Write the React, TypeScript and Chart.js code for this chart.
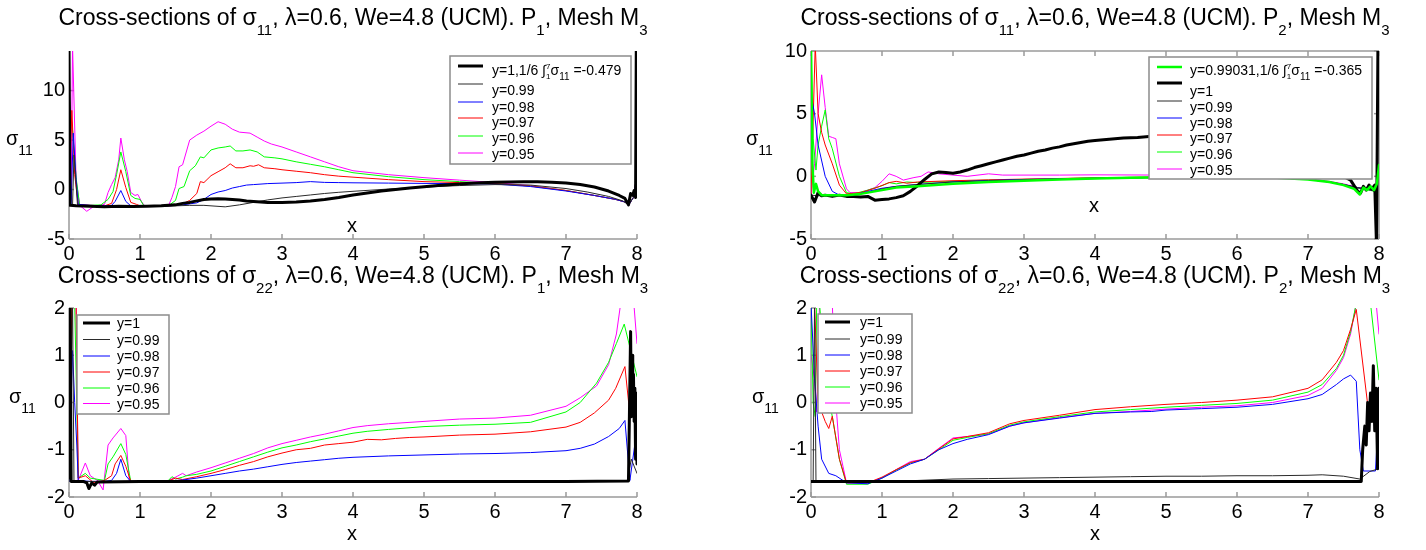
import React, { useEffect, useRef } from 'react';
import { Chart, registerables } from 'chart.js';

Chart.register(...registerables);

type P = [number, number];

// ---------------- tick labels ----------------
const X_TICKS = [0, 1, 2, 3, 4, 5, 6, 7, 8];
const Y_TICKS_TOP = [-5, 0, 5, 10];
const Y_TICKS_BOTTOM = [-2, -1, 0, 1, 2];

// ---------------- top-left: sigma11, P1 ----------------
const tl_y1: P[] = [[0,14.5],[0.015,-1.6],[0.1,-1.65],[0.3,-1.7],[0.5,-1.75],[0.7,-1.7],[0.9,-1.72],[1.1,-1.68],[1.3,-1.65],[1.5,-1.55],[1.6,-1.4],[1.7,-1.3],[1.8,-1.15],[1.9,-1.0],[2.0,-0.95],[2.1,-0.92],[2.2,-0.95],[2.3,-1.0],[2.4,-1.05],[2.5,-1.15],[2.6,-1.2],[2.7,-1.25],[2.8,-1.3],[2.9,-1.32],[3.0,-1.3],[3.2,-1.25],[3.4,-1.15],[3.6,-1.0],[3.8,-0.8],[4.0,-0.55],[4.2,-0.35],[4.4,-0.15],[4.6,0.0],[4.8,0.15],[5.0,0.28],[5.2,0.4],[5.4,0.5],[5.6,0.6],[5.8,0.68],[6.0,0.73],[6.2,0.76],[6.4,0.78],[6.6,0.78],[6.8,0.74],[7.0,0.66],[7.2,0.5],[7.4,0.25],[7.6,-0.15],[7.75,-0.6],[7.83,-0.9],[7.88,-1.55],[7.91,-0.4],[7.94,-0.6],[7.96,-0.1],[7.98,-0.8],[7.99,14.5]];
const tl_y099: P[] = [[0,-1.6],[0.05,-1.6],[0.07,3.5],[0.1,0.5],[0.12,-1.6],[0.3,-1.7],[0.5,-1.75],[0.7,-1.75],[0.9,-1.72],[1.1,-1.7],[1.3,-1.68],[1.5,-1.65],[1.7,-1.6],[1.9,-1.6],[2.0,-1.65],[2.2,-1.75],[2.4,-1.55],[2.6,-1.3],[2.8,-1.05],[3.0,-0.85],[3.2,-0.7],[3.4,-0.55],[3.6,-0.4],[3.8,-0.28],[4.0,-0.18],[4.5,0.05],[5.0,0.25],[5.5,0.4],[6.0,0.5],[6.5,0.45],[7.0,0.1],[7.3,-0.25],[7.6,-0.7],[7.8,-1.15],[7.88,-1.55],[7.95,-0.8],[8.0,0.5]];
const tl_y098: P[] = [[0,-1.6],[0.03,-1.5],[0.06,5.7],[0.1,1.0],[0.13,-1.5],[0.3,-1.6],[0.5,-1.65],[0.6,-1.6],[0.65,-1.2],[0.73,-0.1],[0.8,-1.2],[0.87,-1.65],[1.0,-1.68],[1.2,-1.7],[1.4,-1.65],[1.6,-1.55],[1.8,-1.35],[1.9,-1.0],[2.0,-0.5],[2.1,-0.25],[2.2,-0.1],[2.3,0.15],[2.4,0.3],[2.5,0.45],[2.6,0.5],[2.8,0.6],[3.0,0.65],[3.2,0.7],[3.4,0.8],[3.6,0.72],[3.8,0.7],[4.0,0.68],[4.5,0.65],[5.0,0.62],[5.5,0.6],[6.0,0.55],[6.5,0.3],[7.0,-0.15],[7.4,-0.6],[7.7,-1.0],[7.85,-1.3],[7.88,-1.6],[7.95,-0.8],[8.0,1.5]];
const tl_y097: P[] = [[0,-1.5],[0.04,8.0],[0.08,1.5],[0.13,-1.5],[0.3,-1.6],[0.5,-1.65],[0.6,-1.4],[0.67,0.0],[0.73,2.0],[0.8,0.2],[0.87,-1.3],[0.95,-1.5],[1.0,-1.65],[1.2,-1.7],[1.4,-1.65],[1.5,-1.55],[1.6,-1.45],[1.7,-1.1],[1.8,-0.4],[1.85,0.8],[1.9,0.7],[2.0,1.4],[2.1,1.8],[2.2,2.2],[2.27,2.6],[2.35,2.2],[2.45,2.2],[2.55,2.4],[2.6,2.35],[2.67,2.5],[2.75,2.2],[2.9,2.1],[3.0,2.0],[3.2,1.85],[3.4,1.7],[3.6,1.5],[3.8,1.35],[4.0,1.25],[4.5,1.0],[5.0,0.8],[5.5,0.7],[6.0,0.6],[6.5,0.35],[7.0,-0.1],[7.4,-0.6],[7.7,-1.0],[7.85,-1.3],[7.88,-1.6],[7.95,-0.8],[8.0,1.6]];
const tl_y096: P[] = [[0,9.4],[0.05,6.0],[0.1,1.2],[0.15,-1.6],[0.3,-1.6],[0.45,-1.55],[0.55,-1.0],[0.62,-0.2],[0.67,1.5],[0.73,3.8],[0.8,1.8],[0.87,-0.6],[0.93,-0.9],[1.0,-1.0],[1.05,-1.6],[1.2,-1.7],[1.4,-1.65],[1.5,-1.1],[1.55,0.1],[1.62,0.3],[1.7,1.9],[1.78,2.4],[1.85,3.3],[1.9,3.2],[2.0,4.0],[2.1,4.2],[2.2,4.3],[2.27,4.4],[2.35,3.9],[2.45,3.9],[2.55,4.0],[2.65,3.8],[2.75,3.3],[2.9,3.2],[3.0,3.1],[3.2,2.8],[3.4,2.55],[3.6,2.3],[3.8,2.0],[4.0,1.7],[4.5,1.3],[5.0,1.0],[5.5,0.8],[6.0,0.6],[6.5,0.35],[7.0,-0.1],[7.4,-0.6],[7.7,-1.0],[7.85,-1.3],[7.88,-1.6],[7.95,-0.8],[8.0,1.6]];
const tl_y095: P[] = [[0,-1.6],[0.03,-1.0],[0.05,14.5],[0.1,1.0],[0.15,-1.6],[0.25,-2.2],[0.35,-1.7],[0.5,-1.5],[0.55,-0.3],[0.6,0.5],[0.65,1.2],[0.7,3.0],[0.73,5.2],[0.78,3.0],[0.82,1.8],[0.87,-0.3],[0.93,-0.6],[0.97,-0.5],[1.02,-1.2],[1.07,-1.7],[1.2,-1.7],[1.4,-1.65],[1.45,-0.8],[1.5,0.3],[1.55,2.3],[1.6,2.5],[1.7,5.0],[1.8,5.5],[1.9,5.9],[2.0,6.4],[2.1,6.85],[2.2,6.6],[2.3,6.1],[2.4,5.8],[2.55,5.7],[2.65,5.3],[2.75,4.9],[2.85,4.6],[3.0,4.3],[3.2,3.8],[3.4,3.3],[3.6,2.8],[3.8,2.3],[4.0,1.9],[4.5,1.5],[5.0,1.2],[5.5,0.95],[6.0,0.7],[6.5,0.4],[7.0,-0.1],[7.4,-0.6],[7.7,-1.0],[7.85,-1.3],[7.88,-1.6],[7.95,-0.8],[8.0,1.6]];

// ---------------- top-right: sigma11, P2 ----------------
const tr_y99031: P[] = [[0,10.5],[0.02,1.0],[0.04,-1.3],[0.07,-0.6],[0.1,-1.2],[0.15,-1.5],[0.3,-1.5],[0.5,-1.5],[0.7,-1.4],[1.0,-1.1],[1.2,-0.9],[1.5,-0.8],[2.0,-0.6],[2.5,-0.45],[3.0,-0.35],[3.5,-0.25],[4.0,-0.18],[4.5,-0.12],[5.0,-0.08],[5.5,-0.05],[6.0,-0.05],[6.5,-0.1],[7.0,-0.25],[7.3,-0.45],[7.5,-0.7],[7.65,-1.0],[7.73,-1.45],[7.78,-0.9],[7.83,-1.1],[7.88,-0.8],[7.93,-1.1],[7.97,-0.6],[8.0,0.9]];
const tr_y1: P[] = [[0,-1.5],[0.05,-2.05],[0.1,-1.3],[0.15,-1.55],[0.2,-1.5],[0.3,-1.6],[0.4,-1.5],[0.5,-1.6],[0.6,-1.6],[0.7,-1.65],[0.8,-1.6],[0.9,-1.9],[1.0,-1.85],[1.1,-1.8],[1.2,-1.7],[1.3,-1.55],[1.4,-1.2],[1.5,-0.75],[1.6,-0.25],[1.7,0.2],[1.8,0.35],[1.9,0.3],[2.0,0.25],[2.1,0.35],[2.2,0.5],[2.3,0.7],[2.4,0.85],[2.5,1.0],[2.6,1.15],[2.7,1.3],[2.8,1.45],[2.9,1.6],[3.0,1.7],[3.1,1.85],[3.2,2.0],[3.3,2.1],[3.4,2.25],[3.5,2.35],[3.6,2.5],[3.7,2.6],[3.8,2.7],[3.9,2.8],[4.0,2.85],[4.2,2.95],[4.4,3.05],[4.6,3.1],[4.8,3.2],[5.0,3.25],[5.5,3.3],[6.0,3.2],[6.5,2.8],[7.0,1.8],[7.3,0.8],[7.5,0.0],[7.6,-0.3],[7.7,-1.2],[7.74,-1.35],[7.78,-0.8],[7.82,-1.1],[7.86,-0.7],[7.9,-1.0],[7.94,-0.7],[7.965,-5.5],[7.985,10.5]];
const tr_y099: P[] = [[0,-1.5],[0.1,-1.55],[0.3,-1.5],[0.5,-1.55],[0.7,-1.4],[0.9,-1.15],[1.0,-1.0],[1.2,-0.8],[1.5,-0.65],[2.0,-0.45],[2.5,-0.35],[3.0,-0.28],[4.0,-0.18],[5.0,-0.1],[6.0,-0.08],[6.5,-0.1],[7.0,-0.25],[7.3,-0.45],[7.5,-0.65],[7.7,-0.9],[7.9,-1.1],[7.95,-1.2],[8.0,0.7]];
const tr_y098: P[] = [[0,6.5],[0.05,5.0],[0.1,2.5],[0.2,0.0],[0.3,-1.2],[0.4,-1.5],[0.6,-1.5],[0.8,-1.2],[1.0,-0.95],[1.2,-0.8],[1.5,-0.65],[2.0,-0.45],[2.5,-0.33],[3.0,-0.25],[4.0,-0.15],[5.0,-0.08],[6.0,-0.06],[6.5,-0.1],[7.0,-0.25],[7.3,-0.45],[7.5,-0.65],[7.7,-0.9],[7.9,-1.1],[7.95,-1.2],[8.0,0.7]];
const tr_y097: P[] = [[0,-1.5],[0.06,10.5],[0.1,5.0],[0.15,3.5],[0.2,2.5],[0.3,1.0],[0.4,-0.7],[0.5,-1.4],[0.7,-1.3],[0.9,-0.95],[1.1,-0.5],[1.2,-0.4],[1.35,-0.55],[1.5,-0.45],[2.0,-0.35],[2.5,-0.28],[3.0,-0.22],[4.0,-0.12],[5.0,-0.05],[6.0,-0.04],[6.5,-0.1],[7.0,-0.25],[7.3,-0.45],[7.5,-0.65],[7.7,-0.9],[7.9,-1.1],[7.95,-1.2],[8.0,0.9]];
const tr_y096: P[] = [[0,10.5],[0.03,3.0],[0.07,0.5],[0.1,2.5],[0.15,4.0],[0.2,5.3],[0.25,3.0],[0.3,2.2],[0.4,0.0],[0.5,-1.3],[0.6,-1.4],[0.8,-1.1],[1.0,-0.75],[1.1,-0.5],[1.2,-0.6],[1.35,-0.45],[1.5,-0.5],[2.0,-0.4],[2.5,-0.3],[3.0,-0.25],[4.0,-0.12],[5.0,-0.05],[6.0,-0.05],[6.5,-0.1],[7.0,-0.25],[7.3,-0.45],[7.5,-0.65],[7.7,-0.95],[7.9,-1.15],[7.95,-1.25],[8.0,0.8]];
const tr_y095: P[] = [[0,-1.5],[0.05,1.0],[0.1,5.0],[0.15,8.1],[0.2,5.5],[0.25,3.2],[0.3,3.1],[0.35,3.0],[0.4,1.0],[0.5,-1.0],[0.55,-1.3],[0.7,-1.3],[0.9,-0.9],[1.0,-0.4],[1.1,0.2],[1.2,0.0],[1.3,-0.3],[1.45,-0.1],[1.55,0.0],[1.65,0.35],[1.8,0.2],[2.0,0.1],[2.2,0.0],[2.5,0.2],[2.7,0.1],[3.0,0.1],[3.5,0.1],[4.0,0.12],[5.0,0.1],[6.0,0.05],[6.5,-0.05],[7.0,-0.2],[7.3,-0.4],[7.5,-0.6],[7.7,-0.9],[7.9,-1.1],[7.95,-1.2],[8.0,0.6]];

// ---------------- bottom-left: sigma22, P1 ----------------
const bl_y1: P[] = [[0,-1.6],[0.015,2.1],[0.03,-1.67],[0.2,-1.67],[0.25,-1.7],[0.28,-1.82],[0.32,-1.7],[0.36,-1.75],[0.4,-1.68],[1.0,-1.67],[2.0,-1.67],[3.0,-1.67],[4.0,-1.67],[5.0,-1.67],[6.0,-1.67],[7.0,-1.67],[7.88,-1.66],[7.91,1.5],[7.92,-0.3],[7.93,1.0],[7.94,0.0],[7.95,0.6],[7.96,-0.4],[7.97,0.3],[7.98,-1.2],[7.99,0.2],[8.0,-1.3]];
const bl_y099: P[] = [[0,-1.67],[0.05,2.1],[0.07,-1.67],[1.0,-1.67],[3.0,-1.67],[5.0,-1.67],[7.0,-1.67],[7.86,-1.67],[7.92,-1.2],[8.0,-1.5]];
const bl_y098: P[] = [[0,-1.67],[0.05,1.1],[0.08,0.0],[0.11,-0.9],[0.13,-1.65],[0.3,-1.67],[0.5,-1.67],[0.6,-1.65],[0.67,-1.5],[0.73,-1.2],[0.8,-1.55],[0.87,-1.67],[1.0,-1.67],[1.4,-1.66],[1.6,-1.64],[1.8,-1.6],[2.0,-1.55],[2.2,-1.5],[2.4,-1.45],[2.6,-1.41],[2.8,-1.36],[3.0,-1.31],[3.2,-1.27],[3.4,-1.24],[3.6,-1.21],[3.8,-1.18],[4.0,-1.16],[4.5,-1.13],[5.0,-1.11],[5.5,-1.09],[6.0,-1.08],[6.5,-1.06],[7.0,-1.02],[7.2,-0.97],[7.4,-0.88],[7.6,-0.72],[7.75,-0.55],[7.83,-0.38],[7.9,-1.65],[8.0,-0.55]];
const bl_y097: P[] = [[0,-1.6],[0.04,2.1],[0.1,2.1],[0.13,-1.6],[0.23,-1.55],[0.35,-1.7],[0.5,-1.65],[0.6,-1.55],[0.65,-1.3],[0.73,-1.12],[0.8,-1.35],[0.87,-1.67],[1.0,-1.67],[1.4,-1.66],[1.5,-1.6],[1.6,-1.63],[1.8,-1.57],[2.0,-1.5],[2.2,-1.42],[2.4,-1.33],[2.6,-1.25],[2.8,-1.15],[3.0,-1.07],[3.2,-1.0],[3.4,-0.97],[3.6,-0.9],[3.8,-0.87],[4.0,-0.84],[4.2,-0.78],[4.4,-0.79],[4.6,-0.76],[4.8,-0.74],[5.0,-0.73],[5.5,-0.69],[6.0,-0.67],[6.5,-0.62],[7.0,-0.52],[7.2,-0.42],[7.4,-0.22],[7.6,0.05],[7.7,0.3],[7.83,0.76],[7.9,-0.26],[8.0,0.02]];
const bl_y096: P[] = [[0,-1.6],[0.03,2.1],[0.08,2.1],[0.13,-1.6],[0.23,-1.5],[0.3,-1.6],[0.5,-1.65],[0.55,-1.3],[0.62,-1.15],[0.73,-0.87],[0.8,-1.1],[0.87,-1.67],[1.0,-1.67],[1.4,-1.65],[1.45,-1.57],[1.5,-1.62],[1.6,-1.58],[1.65,-1.55],[1.8,-1.52],[2.0,-1.45],[2.2,-1.35],[2.4,-1.25],[2.6,-1.15],[2.8,-1.05],[3.0,-0.96],[3.2,-0.9],[3.4,-0.83],[3.6,-0.77],[3.8,-0.71],[4.0,-0.65],[4.2,-0.61],[4.5,-0.57],[5.0,-0.51],[5.5,-0.48],[6.0,-0.46],[6.5,-0.42],[7.0,-0.2],[7.2,0.0],[7.43,0.41],[7.6,0.85],[7.71,1.25],[7.82,1.66],[8.0,0.55]];
const bl_y095: P[] = [[0,-1.6],[0.02,2.1],[0.1,2.1],[0.13,-1.65],[0.23,-1.28],[0.3,-1.55],[0.4,-1.65],[0.48,-1.85],[0.55,-0.9],[0.62,-0.75],[0.73,-0.55],[0.8,-0.7],[0.85,-1.67],[1.0,-1.67],[1.4,-1.65],[1.5,-1.58],[1.6,-1.5],[1.65,-1.55],[1.8,-1.47],[2.0,-1.38],[2.2,-1.28],[2.4,-1.18],[2.6,-1.08],[2.8,-0.96],[3.0,-0.87],[3.2,-0.8],[3.4,-0.73],[3.6,-0.67],[3.8,-0.6],[4.0,-0.53],[4.2,-0.49],[4.5,-0.45],[5.0,-0.4],[5.5,-0.35],[6.0,-0.33],[6.5,-0.27],[7.0,-0.08],[7.2,0.1],[7.43,0.35],[7.6,0.8],[7.71,1.45],[7.78,2.2],[7.95,2.2],[8.0,1.25]];

// ---------------- bottom-right: sigma22, P2 ----------------
const br_y1: P[] = [[0,-1.67],[1.0,-1.67],[3.0,-1.67],[5.0,-1.67],[7.0,-1.67],[7.75,-1.67],[7.77,-1.0],[7.8,-0.5],[7.82,-0.9],[7.84,0.0],[7.86,-0.6],[7.88,0.2],[7.9,-0.4],[7.92,0.78],[7.94,-0.6],[7.96,0.3],[7.98,-1.4],[8.0,0.3]];
const br_y099: P[] = [[0,-1.67],[0.03,-1.67],[0.05,2.1],[0.07,-1.67],[1.0,-1.67],[1.5,-1.65],[2.0,-1.62],[2.5,-1.61],[3.0,-1.6],[3.5,-1.59],[4.0,-1.58],[4.5,-1.57],[5.0,-1.56],[5.5,-1.56],[6.0,-1.55],[6.5,-1.55],[7.0,-1.54],[7.2,-1.53],[7.5,-1.56],[7.73,-1.62],[7.87,-1.46],[8.0,-1.4]];
const br_y098: P[] = [[0,2.1],[0.05,0.5],[0.1,-0.5],[0.15,-1.2],[0.25,-1.5],[0.35,-1.55],[0.5,-1.7],[0.8,-1.72],[1.0,-1.6],[1.2,-1.45],[1.4,-1.3],[1.6,-1.2],[1.8,-1.0],[2.0,-0.87],[2.2,-0.78],[2.5,-0.68],[2.8,-0.5],[3.0,-0.43],[3.5,-0.33],[4.0,-0.23],[4.5,-0.2],[4.8,-0.19],[5.0,-0.16],[5.5,-0.13],[6.0,-0.1],[6.5,-0.04],[7.0,0.08],[7.2,0.17],[7.4,0.38],[7.5,0.5],[7.6,0.58],[7.68,0.45],[7.73,-1.0],[7.78,-1.45],[7.95,-1.45],[8.0,-0.1]];
const br_y097: P[] = [[0,2.1],[0.05,2.1],[0.1,0.0],[0.2,-0.4],[0.25,-0.55],[0.3,-0.29],[0.4,-1.2],[0.5,-1.7],[0.8,-1.7],[1.0,-1.58],[1.2,-1.42],[1.4,-1.27],[1.6,-1.2],[1.8,-0.98],[2.0,-0.77],[2.2,-0.72],[2.5,-0.64],[2.8,-0.45],[3.0,-0.38],[3.5,-0.27],[4.0,-0.15],[4.5,-0.09],[5.0,-0.04],[5.5,0.0],[6.0,0.05],[6.5,0.12],[7.0,0.3],[7.2,0.48],[7.4,0.85],[7.5,1.1],[7.6,1.55],[7.68,1.97],[7.85,-0.16],[7.92,-0.37],[8.0,-0.22]];
const br_y096: P[] = [[0,2.1],[0.03,0.0],[0.06,-0.3],[0.08,2.1],[0.12,2.1],[0.2,0.5],[0.3,-0.3],[0.4,-1.2],[0.5,-1.73],[0.8,-1.73],[1.0,-1.6],[1.2,-1.43],[1.4,-1.28],[1.6,-1.2],[1.8,-1.0],[2.0,-0.8],[2.2,-0.74],[2.5,-0.66],[2.8,-0.48],[3.0,-0.41],[3.5,-0.3],[4.0,-0.2],[4.5,-0.15],[5.0,-0.1],[5.5,-0.06],[6.0,-0.02],[6.5,0.05],[7.0,0.22],[7.2,0.38],[7.4,0.72],[7.5,1.0],[7.6,1.5],[7.68,2.1],[7.88,2.1],[8.0,0.48]];
const br_y095: P[] = [[0,1.0],[0.05,0.5],[0.08,-0.2],[0.12,2.1],[0.3,2.1],[0.35,0.0],[0.4,-1.0],[0.5,-1.7],[0.8,-1.7],[1.0,-1.6],[1.2,-1.42],[1.4,-1.25],[1.6,-1.2],[1.8,-0.97],[2.0,-0.75],[2.2,-0.72],[2.5,-0.67],[2.8,-0.5],[3.0,-0.43],[3.5,-0.32],[4.0,-0.23],[4.5,-0.19],[5.0,-0.14],[5.5,-0.1],[6.0,-0.07],[6.5,0.0],[7.0,0.15],[7.2,0.3],[7.4,0.68],[7.5,0.95],[7.6,1.45],[7.68,2.1],[7.96,2.1],[8.0,1.45]];

// ---------------- styles ----------------
const FONT = '"Liberation Sans", Arial, Helvetica, sans-serif';
const AXIS_COLOR = '#9a9a9a';
const C_BLACK = '#000000';
const C_THIN = '#2a2a2a';
const C_BLUE = '#0000ff';
const C_RED = '#ff0000';
const C_GREEN = '#00ff00';
const C_MAGENTA = '#ff00ff';
const TICK = 5;

type Seg = { t: string; k?: 'sub' | 'sup'; size?: number; dy?: number; stack?: boolean };

function segSize(s: Seg, base: number) {
  return s.size ?? (s.k ? Math.round(base * 0.65) : base);
}
function segDy(s: Seg, base: number) {
  if (s.dy !== undefined) return s.dy;
  if (s.k === 'sub') return base * 0.42;
  if (s.k === 'sup') return -base * 0.45;
  return 0;
}
function drawRich(ctx: CanvasRenderingContext2D, segs: Seg[], x: number, y: number, base: number, align: 'left' | 'center') {
  ctx.save();
  ctx.textBaseline = 'alphabetic';
  ctx.textAlign = 'left';
  ctx.fillStyle = '#000';
  let total = 0;
  for (const s of segs) {
    ctx.font = `${segSize(s, base)}px ${FONT}`;
    if (!s.stack) total += ctx.measureText(s.t).width;
  }
  let cx = align === 'center' ? x - total / 2 : x;
  for (const s of segs) {
    ctx.font = `${segSize(s, base)}px ${FONT}`;
    ctx.fillText(s.t, cx, y + segDy(s, base));
    if (!s.stack) cx += ctx.measureText(s.t).width;
  }
  ctx.restore();
}

function titleSegs(comp: string, p: string): Seg[] {
  return [
    { t: 'Cross-sections of σ' },
    { t: comp, k: 'sub' },
    { t: ', λ=0.6, We=4.8 (UCM). P' },
    { t: p, k: 'sub' },
    { t: ', Mesh M' },
    { t: '3', k: 'sub' },
  ];
}

function integralSegs(prefix: string, value: string): Seg[] {
  return [
    { t: prefix },
    { t: '∫', size: 14 },
    { t: '7', size: 8, dy: -6, stack: true },
    { t: '1', size: 8, dy: 4 },
    { t: 'σ' },
    { t: '11', size: 10, dy: 5 },
    { t: ' =' + value },
  ];
}

const YLAB: Seg[] = [{ t: 'σ' }, { t: '11', size: 14, dy: 10 }];

type Series = { data: P[]; color: string; width: number };
type LegendEntry = { segs: Seg[]; color: string; width: number; sy: number; ty: number };
type Panel = {
  left: number; top: number; w: number; h: number;
  area: { l: number; t: number; r: number; b: number };
  yMin: number; yMax: number; yTicks: number[];
  series: Series[];
  title: Seg[]; titleY: number;
  ylab: [number, number];
  xlab: [number, number];
  box: boolean;
  legend: { rect: [number, number, number, number]; sx: [number, number]; tx: number; entries: LegendEntry[] };
};

const L = (t: string): Seg[] => [{ t }];

const PANELS: Panel[] = [
  {
    left: 0, top: 0, w: 713, h: 263,
    area: { l: 69, t: 51, r: 637, b: 239 },
    yMin: -5, yMax: 14, yTicks: Y_TICKS_TOP,
    series: [
      { data: tl_y1, color: C_BLACK, width: 3 },
      { data: tl_y099, color: C_THIN, width: 1 },
      { data: tl_y098, color: C_BLUE, width: 1 },
      { data: tl_y097, color: C_RED, width: 1 },
      { data: tl_y096, color: C_GREEN, width: 1 },
      { data: tl_y095, color: C_MAGENTA, width: 1 },
    ],
    title: titleSegs('11', '1'), titleY: 25,
    ylab: [6, 145], xlab: [352, 232], box: false,
    legend: {
      rect: [450, 56, 631, 164], sx: [458, 483], tx: 492,
      entries: [
        { segs: integralSegs('y=1,1/6 ', '-0.479'), color: C_BLACK, width: 3, sy: 66, ty: 70 },
        { segs: L('y=0.99'), color: C_THIN, width: 1, sy: 84, ty: 90 },
        { segs: L('y=0.98'), color: C_BLUE, width: 1, sy: 102, ty: 106.5 },
        { segs: L('y=0.97'), color: C_RED, width: 1, sy: 118, ty: 122 },
        { segs: L('y=0.96'), color: C_GREEN, width: 1, sy: 136, ty: 137.5 },
        { segs: L('y=0.95'), color: C_MAGENTA, width: 1, sy: 153, ty: 153.5 },
      ],
    },
  },
  {
    left: 713, top: 0, w: 713, h: 263,
    area: { l: 811, t: 51, r: 1379, b: 239 },
    yMin: -5, yMax: 10, yTicks: Y_TICKS_TOP,
    series: [
      { data: tr_y99031, color: C_GREEN, width: 2.5 },
      { data: tr_y1, color: C_BLACK, width: 3 },
      { data: tr_y099, color: C_THIN, width: 1 },
      { data: tr_y098, color: C_BLUE, width: 1 },
      { data: tr_y097, color: C_RED, width: 1 },
      { data: tr_y096, color: C_GREEN, width: 1 },
      { data: tr_y095, color: C_MAGENTA, width: 1 },
    ],
    title: titleSegs('11', '2'), titleY: 25,
    ylab: [746, 145], xlab: [1094, 212], box: true,
    legend: {
      rect: [1149, 57, 1372, 179], sx: [1157, 1182], tx: 1190,
      entries: [
        { segs: integralSegs('y=0.99031,1/6 ', '-0.365'), color: C_GREEN, width: 2.5, sy: 67, ty: 70 },
        { segs: L('y=1'), color: C_BLACK, width: 3, sy: 83, ty: 90.5 },
        { segs: L('y=0.99'), color: C_THIN, width: 1, sy: 101, ty: 106.5 },
        { segs: L('y=0.98'), color: C_BLUE, width: 1, sy: 118, ty: 122.5 },
        { segs: L('y=0.97'), color: C_RED, width: 1, sy: 135, ty: 138 },
        { segs: L('y=0.96'), color: C_GREEN, width: 1, sy: 152, ty: 154 },
        { segs: L('y=0.95'), color: C_MAGENTA, width: 1, sy: 169, ty: 170 },
      ],
    },
  },
  {
    left: 0, top: 263, w: 713, h: 287,
    area: { l: 69, t: 308, r: 637, b: 497 },
    yMin: -2, yMax: 2, yTicks: Y_TICKS_BOTTOM,
    series: [
      { data: bl_y1, color: C_BLACK, width: 3 },
      { data: bl_y099, color: C_THIN, width: 1 },
      { data: bl_y098, color: C_BLUE, width: 1 },
      { data: bl_y097, color: C_RED, width: 1 },
      { data: bl_y096, color: C_GREEN, width: 1 },
      { data: bl_y095, color: C_MAGENTA, width: 1 },
    ],
    title: titleSegs('22', '1'), titleY: 283,
    ylab: [9, 403], xlab: [352, 540], box: false,
    legend: {
      rect: [77, 315, 169, 414], sx: [83, 110], tx: 117,
      entries: [
        { segs: L('y=1'), color: C_BLACK, width: 3, sy: 323, ty: 323 },
        { segs: L('y=0.99'), color: C_THIN, width: 1, sy: 339.5, ty: 339.5 },
        { segs: L('y=0.98'), color: C_BLUE, width: 1, sy: 356, ty: 356 },
        { segs: L('y=0.97'), color: C_RED, width: 1, sy: 372, ty: 372 },
        { segs: L('y=0.96'), color: C_GREEN, width: 1, sy: 388, ty: 388 },
        { segs: L('y=0.95'), color: C_MAGENTA, width: 1, sy: 403.5, ty: 403.5 },
      ],
    },
  },
  {
    left: 713, top: 263, w: 713, h: 287,
    area: { l: 811, t: 308, r: 1379, b: 497 },
    yMin: -2, yMax: 2, yTicks: Y_TICKS_BOTTOM,
    series: [
      { data: br_y1, color: C_BLACK, width: 3 },
      { data: br_y099, color: C_THIN, width: 1 },
      { data: br_y098, color: C_BLUE, width: 1 },
      { data: br_y097, color: C_RED, width: 1 },
      { data: br_y096, color: C_GREEN, width: 1 },
      { data: br_y095, color: C_MAGENTA, width: 1 },
    ],
    title: titleSegs('22', '2'), titleY: 283,
    ylab: [752, 403], xlab: [1095, 540], box: false,
    legend: {
      rect: [818, 314, 912, 413], sx: [825, 850], tx: 860,
      entries: [
        { segs: L('y=1'), color: C_BLACK, width: 3, sy: 322, ty: 322 },
        { segs: L('y=0.99'), color: C_THIN, width: 1, sy: 339, ty: 339 },
        { segs: L('y=0.98'), color: C_BLUE, width: 1, sy: 355, ty: 355 },
        { segs: L('y=0.97'), color: C_RED, width: 1, sy: 371, ty: 371 },
        { segs: L('y=0.96'), color: C_GREEN, width: 1, sy: 387, ty: 387 },
        { segs: L('y=0.95'), color: C_MAGENTA, width: 1, sy: 403, ty: 403 },
      ],
    },
  },
];

function decorPlugin(p: Panel) {
  const seg = (ctx: CanvasRenderingContext2D, x1: number, y1: number, x2: number, y2: number) => {
    ctx.beginPath();
    ctx.moveTo(x1, y1);
    ctx.lineTo(x2, y2);
    ctx.stroke();
  };
  return {
    id: 'decor',
    beforeDatasetsDraw(chart: any) {
      const ctx: CanvasRenderingContext2D = chart.ctx;
      const { left, right, top, bottom } = chart.chartArea;
      const xs = chart.scales.x;
      const ys = chart.scales.y;
      ctx.save();
      ctx.strokeStyle = AXIS_COLOR;
      ctx.lineWidth = 1.5;
      seg(ctx, left, bottom, right, bottom);
      seg(ctx, left, top, left, bottom);
      if (p.box) {
        seg(ctx, left, top, right, top);
        seg(ctx, right, top, right, bottom);
      }
      for (const v of X_TICKS) {
        const x = xs.getPixelForValue(v);
        seg(ctx, x, bottom, x, bottom - TICK);
        if (p.box) seg(ctx, x, top, x, top + TICK);
      }
      for (const v of p.yTicks) {
        const y = ys.getPixelForValue(v);
        seg(ctx, left, y, left + TICK, y);
        if (p.box) seg(ctx, right, y, right - TICK, y);
      }
      ctx.restore();
    },
    afterDatasetsDraw(chart: any) {
      const ctx: CanvasRenderingContext2D = chart.ctx;
      const ox = p.left;
      const oy = p.top;
      // legend
      const lg = p.legend;
      const [bl, bt, br, bb] = lg.rect;
      ctx.save();
      ctx.fillStyle = '#ffffff';
      ctx.fillRect(bl - ox, bt - oy, br - bl, bb - bt);
      ctx.strokeStyle = '#8c8c8c';
      ctx.lineWidth = 1.5;
      ctx.strokeRect(bl - ox, bt - oy, br - bl, bb - bt);
      for (const e of lg.entries) {
        ctx.strokeStyle = e.color;
        ctx.lineWidth = e.width;
        ctx.beginPath();
        ctx.moveTo(lg.sx[0] - ox, e.sy - oy);
        ctx.lineTo(lg.sx[1] - ox, e.sy - oy);
        ctx.stroke();
        drawRich(ctx, e.segs, lg.tx - ox, e.ty + 5 - oy, 14, 'left');
      }
      ctx.restore();
      // title
      const cx = (p.area.l + p.area.r) / 2;
      drawRich(ctx, p.title, cx - ox, p.titleY - oy, 23, 'center');
      // y label
      drawRich(ctx, YLAB, p.ylab[0] - ox, p.ylab[1] - oy, 20, 'left');
      // x label
      drawRich(ctx, [{ t: 'x' }], p.xlab[0] - ox, p.xlab[1] - oy, 20, 'center');
    },
  };
}

function buildConfig(p: Panel): any {
  const a = p.area;
  const tickFont = { family: FONT, size: 20 };
  return {
    type: 'line',
    data: {
      datasets: p.series.map((s) => ({
        data: s.data.map(([x, y]) => ({ x, y })),
        borderColor: s.color,
        borderWidth: s.width,
        pointRadius: 0,
        fill: false,
        tension: 0,
        borderJoinStyle: 'round',
        borderCapStyle: 'round',
      })),
    },
    options: {
      responsive: false,
      maintainAspectRatio: false,
      animation: false,
      devicePixelRatio: 1,
      events: [],
      layout: { padding: { left: 0, top: a.t - p.top, right: p.left + p.w - a.r, bottom: 0 } },
      plugins: { legend: { display: false }, tooltip: { enabled: false }, title: { display: false } },
      scales: {
        x: {
          type: 'linear', min: 0, max: 8,
          grid: { display: false, drawTicks: false },
          border: { display: false },
          ticks: { font: tickFont, color: '#000', padding: 3, maxRotation: 0, autoSkip: false },
          afterBuildTicks: (ax: any) => { ax.ticks = X_TICKS.map((v) => ({ value: v })); },
          afterFit: (ax: any) => { ax.height = p.top + p.h - a.b; },
        },
        y: {
          type: 'linear', min: p.yMin, max: p.yMax,
          grid: { display: false, drawTicks: false },
          border: { display: false },
          ticks: { font: tickFont, color: '#000', padding: 4 },
          afterBuildTicks: (ax: any) => { ax.ticks = p.yTicks.map((v) => ({ value: v })); },
          afterFit: (ax: any) => { ax.width = a.l - p.left; },
        },
      },
    },
    plugins: [decorPlugin(p)],
  };
}

function PanelChart({ p }: { p: Panel }) {
  const ref = useRef<HTMLCanvasElement>(null);
  useEffect(() => {
    const canvas = ref.current;
    if (!canvas) return;
    const chart = new Chart(canvas, buildConfig(p));
    return () => chart.destroy();
  }, [p]);
  return (
    <canvas
      ref={ref}
      width={p.w}
      height={p.h}
      style={{ position: 'absolute', left: p.left, top: p.top, width: p.w, height: p.h }}
    />
  );
}

export default function App() {
  return (
    <div style={{ position: 'absolute', left: 0, top: 0, width: 1426, height: 550, background: '#fff', overflow: 'hidden' }}>
      {PANELS.map((p, i) => (
        <PanelChart key={i} p={p} />
      ))}
    </div>
  );
}
